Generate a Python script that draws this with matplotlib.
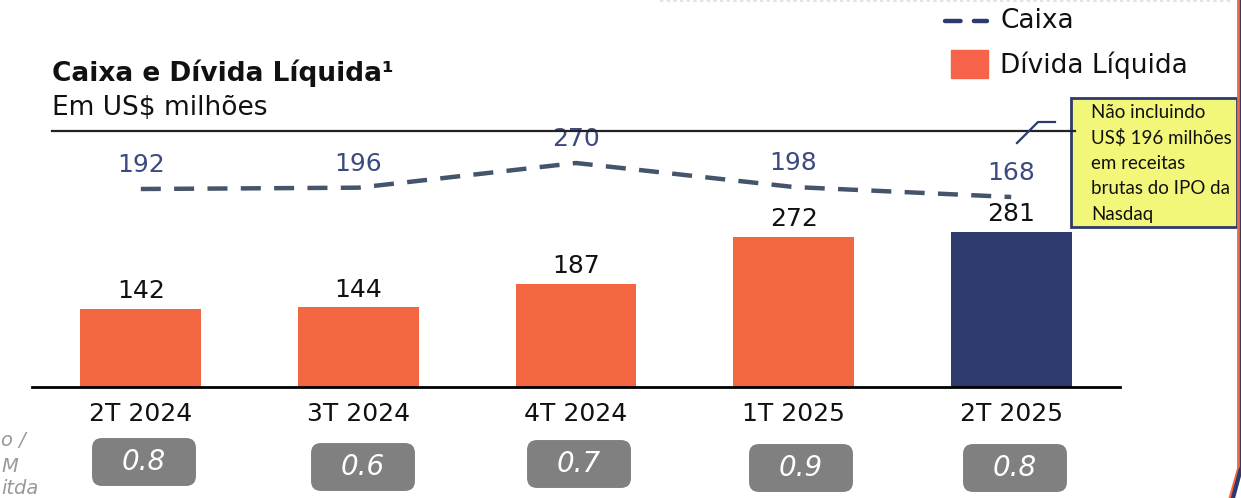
import matplotlib
matplotlib.use("Agg")
from matplotlib import pyplot as plt
from matplotlib.patches import FancyBboxPatch, Rectangle
from matplotlib.lines import Line2D
import numpy as np

quarters = ['2T 2024', '3T 2024', '4T 2024', '1T 2025', '2T 2025']
divida = [142, 144, 187, 272, 281]
caixa = [192, 196, 270, 198, 168]
alav = ['0.8', '0.6', '0.7', '0.9', '0.8']

orange = '#f26641'
navy = '#2e3a6e'
line_col = '#44546a'
lab_col = '#3b4a80'

W, H = 1241, 498
plt.rcParams['font.family'] = ['DejaVu Sans']

fig = plt.figure(figsize=(W / 100, H / 100), dpi=100)

def fx(px):
    return px / W

def fy(py):
    return 1 - py / H

ax = fig.add_axes([fx(32), fy(387), fx(1120) - fx(32), fy(130) - fy(387)])
x = np.arange(len(quarters))
cols = [orange] * (len(quarters) - 1) + [navy]
bars = ax.bar(x, divida, width=0.556, color=cols, zorder=2)
for xi, v in zip(x, divida):
    ax.text(xi, v + 10, str(v), ha='center', va='bottom', fontsize=18, color='#111111')
ax.set_xlim(-0.5, 4.5)
ax.set_ylim(0, 465)
for s in ['top', 'left', 'right']:
    ax.spines[s].set_visible(False)
ax.spines['bottom'].set_linewidth(2)
ax.set_yticks([])
ax.set_xticks(x)
ax.set_xticklabels(quarters, fontsize=18, color='#111111')
ax.tick_params(axis='x', length=0, pad=11)
ax.patch.set_alpha(0)

ax2 = ax.twinx()
ax2.plot(x, caixa, color=line_col, lw=3.2, dashes=(4.5, 3), zorder=3)
for xi, v in zip(x, caixa):
    ax2.text(xi, v + 36, str(v), ha='center', va='bottom',
             fontsize=18, color=lab_col)
ax2.set_ylim(-402, 369)
ax2.set_yticks([])
ax2.set_xlim(-0.5, 4.5)
for s in ax2.spines.values():
    s.set_visible(False)

# title and horizontal rule
fig.text(fx(52), fy(73), 'Caixa e Dívida Líquida¹', fontsize=19, fontweight='bold',
         va='center', ha='left', color='#111111')
fig.text(fx(52), fy(108), 'Em US$ milhões', fontsize=19, va='center', ha='left',
         color='#111111')
fig.add_artist(Line2D([fx(52), fx(1075)], [fy(131), fy(131)], color='#222222', lw=1.6))

# legend
fig.add_artist(Line2D([fx(945), fx(987)], [fy(21), fy(21)], color=navy, lw=3.2,
                      dashes=(3.5, 3), solid_capstyle='round', dash_capstyle='round'))
fig.text(fx(1000), fy(21), 'Caixa', fontsize=19, va='center', ha='left', color='#111111')
fig.add_artist(Rectangle((fx(951), fy(78)), fx(988) - fx(951), fy(50) - fy(78),
                         transform=fig.transFigure, color='#f4634a'))
fig.text(fx(1000), fy(65), 'Dívida Líquida', fontsize=19, va='center', ha='left',
         color='#111111')

# top dotted line and right border
fig.add_artist(Line2D([fx(660), fx(1230)], [fy(1), fy(1)], color='#dddddd', lw=1.2,
                      ls=(0, (2, 2))))
fig.add_artist(Line2D([fx(1238), fx(1238)], [fy(0), fy(470)], color=orange, lw=2))
fig.add_artist(Line2D([fx(1240.5), fx(1240.5)], [fy(0), fy(470)], color=navy, lw=2.5))
fig.add_artist(Line2D([fx(1238), fx(1230)], [fy(470), fy(498)], color=orange, lw=2))
fig.add_artist(Line2D([fx(1240.5), fx(1233)], [fy(470), fy(498)], color=navy, lw=3))

# note box
fig.add_artist(Rectangle((fx(1071), fy(227)), fx(1237) - fx(1071), fy(98) - fy(227),
                         transform=fig.transFigure, facecolor='#f2f77a',
                         edgecolor=navy, lw=2))
note = ['Não incluindo', 'US$ 196 milhões', 'em receitas', 'brutas do IPO da', 'Nasdaq']
for i, t in enumerate(note):
    fig.text(fx(1091), fy(112 + i * 25.5), t, fontsize=13.5, family='Lato',
             va='center', ha='left', color='#111111')
fig.add_artist(Line2D([fx(1017), fx(1038), fx(1055)], [fy(143), fy(122), fy(122)],
                      color=navy, lw=1.6))

# leverage boxes
box_cx = [144, 363, 579, 801, 1015]
box_cy = [462, 467, 464, 468, 468]
for cx, cy, t in zip(box_cx, box_cy, alav):
    fig.add_artist(FancyBboxPatch((fx(cx - 47), fy(cy + 19)), fx(94), 38 / H,
                                  boxstyle='round,pad=0.004,rounding_size=0.008',
                                  transform=fig.transFigure, facecolor='#808080',
                                  edgecolor='none', mutation_aspect=W / H))
    fig.text(fx(cx), fy(cy), t, fontsize=20, style='italic', color='white',
             ha='center', va='center')

# side text (cropped in the source slide)
for t, yy in zip(['o /', 'M', 'itda'], [440, 466, 488]):
    fig.text(fx(1), fy(yy), t, fontsize=14, style='italic', color='#999999',
             ha='left', va='center')

fig.savefig('out.png', dpi=100)
